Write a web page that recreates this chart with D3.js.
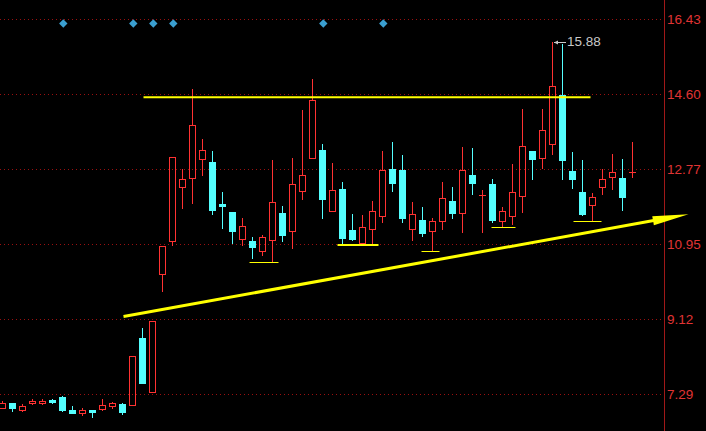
<!DOCTYPE html>
<html><head><meta charset="utf-8">
<script src="https://cdn.jsdelivr.net/npm/d3@7"></script>
<style>html,body{margin:0;padding:0;background:#000;overflow:hidden}</style>
</head><body>
<svg id="c" width="706" height="431"></svg>
<script>
const opens  = [6.96,7.06,6.90,7.06,7.06,7.15,7.21,6.91,6.82,6.89,6.93,6.99,7.04,7.02,8.65,7.34,10.22,11.02,12.34,12.56,13.02,12.95,11.92,11.72,11.07,11.01,10.78,11.05,11.69,11.27,12.24,13.05,13.23,11.74,12.28,11.28,10.98,11.30,11.64,12.77,12.74,11.32,11.53,11.27,11.50,11.99,11.69,12.62,12.14,12.42,11.51,11.63,12.12,13.21,13.03,13.38,14.58,12.72,12.21,11.90,12.34,12.58,12.55,12.70];
const closes = [7.06,6.94,6.99,7.13,7.13,7.09,6.89,6.82,6.91,6.85,7.01,7.06,6.85,8.21,7.56,9.06,10.89,13.06,12.54,13.84,13.23,11.77,11.88,11.26,11.38,10.88,11.11,11.96,11.16,12.40,12.62,14.45,12.05,12.25,11.09,11.08,11.37,11.76,12.74,12.44,11.58,11.67,11.22,11.50,12.06,11.69,12.74,12.44,12.15,11.53,11.75,12.21,13.33,13.02,13.72,14.79,13.00,12.53,11.68,12.08,12.52,12.69,12.10,12.71];
const highs  = [7.11,7.08,7.04,7.16,7.16,7.18,7.25,6.99,6.96,6.89,7.16,7.09,7.07,8.21,8.89,9.06,10.89,13.06,12.77,14.72,13.50,13.21,12.21,11.72,11.58,11.11,11.16,12.99,11.87,13.03,14.21,14.97,13.38,12.92,12.45,11.67,11.65,11.99,13.21,13.43,13.11,11.97,11.86,11.57,12.45,12.33,13.32,13.28,12.26,12.53,11.84,12.89,14.23,13.21,14.23,15.88,15.82,13.18,12.99,12.18,12.77,13.14,13.02,13.43];
const lows   = [6.94,6.87,6.87,7.04,7.04,7.07,6.87,6.82,6.78,6.73,6.91,6.96,6.80,7.02,7.56,7.34,9.79,10.92,11.83,11.95,12.62,11.67,11.34,10.97,10.92,10.61,10.67,10.51,11.01,10.85,12.04,13.05,11.58,11.74,10.96,11.04,10.96,10.96,11.48,12.23,11.48,11.04,11.15,10.78,11.32,11.57,11.24,12.16,11.24,11.48,11.36,11.43,11.73,12.54,12.81,13.14,12.54,12.31,11.65,11.50,12.17,12.28,11.77,12.59];
const tickValues = [16.43,14.60,12.77,10.95,9.12,7.29];
const tickLabels = ["16.43","14.60","12.77","10.95","9.12","7.29"];
const signalIdx = [6,13,15,17,32,38];
const resistance = {i0:14.1, i1:58.8, v:14.52};
const trend = {i0:12.1, v0:9.18, i1:68.6, v1:11.67};
const supports = [
  {i0:24.7,i1:27.6,v:10.51,w:1},
  {i0:33.5,i1:37.6,v:10.92,w:2},
  {i0:41.9,i1:43.7,v:10.77,w:1},
  {i0:48.9,i1:51.3,v:11.36,w:1},
  {i0:57.1,i1:59.9,v:11.50,w:1}
];
const peakIdx = 55, peakLabel = "15.88";

const W=706,H=431, axisX=664;
const UP="#ff3232", DOWN="#54ffff";
const svg=d3.select("#c");
svg.append("rect").attr("width",W).attr("height",H).attr("fill","#000");
const x=d3.scaleLinear().domain([0,1]).range([2.5,12.5]);
const y=d3.scaleLinear().domain([7.29,16.43]).range([394,19]);
const py=v=>Math.round(y(v))+0.5;

// grid
const g=svg.append("g");
tickValues.forEach((t,k)=>{
  g.append("line").attr("x1",0).attr("x2",axisX).attr("y1",py(t)).attr("y2",py(t))
   .attr("stroke","#9a1010").attr("stroke-dasharray","1,3");
  g.append("text").attr("x",axisX+3).attr("y",y(t)).attr("dy","0.36em")
   .attr("fill","#e03434").attr("font-family","Liberation Sans, Arial, sans-serif")
   .attr("font-size","13.5px").text(tickLabels[k]);
});
svg.append("line").attr("x1",axisX+0.5).attr("x2",axisX+0.5).attr("y1",0).attr("y2",H)
  .attr("stroke","#a01818");

// candles
const cg=svg.append("g");
opens.forEach((o,i)=>{
  const c=closes[i],h=highs[i],l=lows[i];
  const xc=x(i), xl=Math.round(xc-3.5), wx=Math.floor(xc)+0.5;
  const up=c>=o;
  const top=Math.round(y(Math.max(o,c))), bot=Math.round(y(Math.min(o,c)));
  if(up){
    if(bot-top<=1){
      cg.append("line").attr("x1",wx).attr("x2",wx).attr("y1",Math.round(y(h))).attr("y2",Math.round(y(l))+1).attr("stroke",UP);
      cg.append("line").attr("x1",xl).attr("x2",xl+7).attr("y1",top+0.5).attr("y2",top+0.5).attr("stroke",UP);
    } else {
      cg.append("line").attr("x1",wx).attr("x2",wx).attr("y1",Math.round(y(h))).attr("y2",top).attr("stroke",UP);
      cg.append("line").attr("x1",wx).attr("x2",wx).attr("y1",bot).attr("y2",Math.round(y(l))+1).attr("stroke",UP);
      cg.append("rect").attr("x",xl+0.5).attr("y",top+0.5).attr("width",6).attr("height",bot-top)
        .attr("fill","none").attr("stroke",UP);
    }
  } else {
    cg.append("line").attr("x1",wx).attr("x2",wx).attr("y1",Math.round(y(h))).attr("y2",Math.round(y(l))+1).attr("stroke",DOWN);
    cg.append("rect").attr("x",xl).attr("y",top).attr("width",7).attr("height",Math.max(1,bot-top+1))
      .attr("fill",DOWN);
  }
});

// signal diamonds
signalIdx.forEach(i=>{
  const cx=x(i)+0.8, cy=23.5, r=4.2;
  svg.append("path").attr("d",`M${cx},${cy-r}L${cx+r},${cy}L${cx},${cy+r}L${cx-r},${cy}Z`)
    .attr("fill","#3a9fd0");
});

// resistance
svg.append("line").attr("x1",x(resistance.i0)).attr("x2",x(resistance.i1))
  .attr("y1",y(resistance.v)).attr("y2",y(resistance.v)).attr("stroke","#ffff00").attr("stroke-width",2);

// supports
supports.forEach(s=>{
  const yy = s.w===1 ? py(s.v) : Math.round(y(s.v));
  svg.append("line").attr("x1",x(s.i0)).attr("x2",x(s.i1)).attr("y1",yy).attr("y2",yy)
    .attr("stroke","#ffff00").attr("stroke-width",s.w);
});

// trend line + arrow
const ax=x(trend.i0), ay=y(trend.v0), bx=x(trend.i1), by=y(trend.v1);
const len=Math.hypot(bx-ax,by-ay), ux=(bx-ax)/len, uy=(by-ay)/len;
const back=36, hw=4.6;
const mx=bx-ux*back, my=by-uy*back;
svg.append("line").attr("x1",ax).attr("y1",ay).attr("x2",mx+ux*2).attr("y2",my+uy*2)
  .attr("stroke","#ffff00").attr("stroke-width",3);
svg.append("path").attr("d",`M${bx},${by}L${mx-uy*hw},${my+ux*hw}L${mx+uy*hw},${my-ux*hw}Z`)
  .attr("fill","#ffff00");

// peak annotation
const pxp=x(peakIdx)+0.5, pyp=y(highs[peakIdx]);
svg.append("line").attr("x1",pxp+1).attr("x2",pxp+13).attr("y1",Math.round(pyp)+0.5).attr("y2",Math.round(pyp)+0.5)
  .attr("stroke","#c8c8c8");
svg.append("path").attr("d",`M${pxp+1},${Math.round(pyp)+0.5}L${pxp+5},${Math.round(pyp)-1.5}L${pxp+5},${Math.round(pyp)+2.5}Z`).attr("fill","#c8c8c8");
svg.append("text").attr("x",pxp+14).attr("y",pyp).attr("dy","0.36em").attr("fill","#c8c8c8")
  .attr("font-family","Liberation Sans, Arial, sans-serif").attr("font-size","13.5px").text(peakLabel);
</script>
</body></html>
